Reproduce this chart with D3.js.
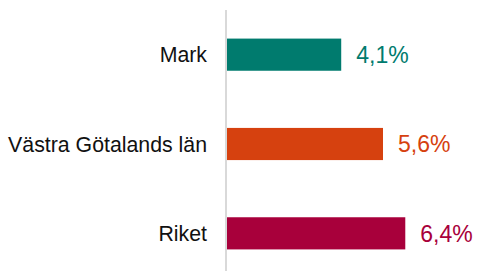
<!DOCTYPE html>
<html>
<head>
<meta charset="utf-8">
<script src="https://cdn.jsdelivr.net/npm/d3@7"></script>
<style>
  body { margin: 0; background: white; }
  svg { display: block; font-family: "Liberation Sans", Arial, sans-serif; }
</style>
</head>
<body>
<svg></svg>
<script>
let categories = ["Mark", "Västra Götalands län", "Riket"];
let values = [4.1, 5.6, 6.4];
let valueLabels = ["4,1%", "5,6%", "6,4%"];
let barColors = ["#007B6E", "#D6410F", "#A8003B"];

let width = 478;
let height = 271;

let svg = d3.select("svg")
            .attr("width", width)
            .attr("height", height);

let scaleX = d3.scaleLinear()
               .domain([0, 7])
               .range([227, 422]);

let scaleY = d3.scaleBand()
               .domain(categories)
               .range([10, 278])
               .paddingInner(0.64)
               .paddingOuter(0.32);

// bars
svg.selectAll("rect.bar")
   .data(values)
   .enter()
   .append("rect")
   .attr("class", "bar")
   .attr("x", scaleX(0))
   .attr("y", (d, i) => scaleY(categories[i]))
   .attr("width", d => scaleX(d) - scaleX(0))
   .attr("height", scaleY.bandwidth())
   .attr("fill", (d, i) => barColors[i]);

// vertical axis line
svg.append("line")
   .attr("x1", scaleX(0) - 1)
   .attr("x2", scaleX(0) - 1)
   .attr("y1", 10)
   .attr("y2", height)
   .attr("stroke", "#d9d9d9")
   .attr("stroke-width", 2);

// category labels
svg.selectAll("text.cat")
   .data(categories)
   .enter()
   .append("text")
   .attr("class", "cat")
   .attr("x", scaleX(0) - 20)
   .attr("y", d => scaleY(d) + scaleY.bandwidth() / 2)
   .attr("dy", "0.36em")
   .attr("text-anchor", "end")
   .attr("font-size", 21.3)
   .attr("fill", "#111")
   .text(d => d);

// value labels
svg.selectAll("text.val")
   .data(values)
   .enter()
   .append("text")
   .attr("class", "val")
   .attr("x", d => scaleX(d) + 15)
   .attr("y", (d, i) => scaleY(categories[i]) + scaleY.bandwidth() / 2)
   .attr("dy", "0.36em")
   .attr("font-size", 23)
   .attr("fill", (d, i) => barColors[i])
   .text((d, i) => valueLabels[i]);
</script>
</body>
</html>
